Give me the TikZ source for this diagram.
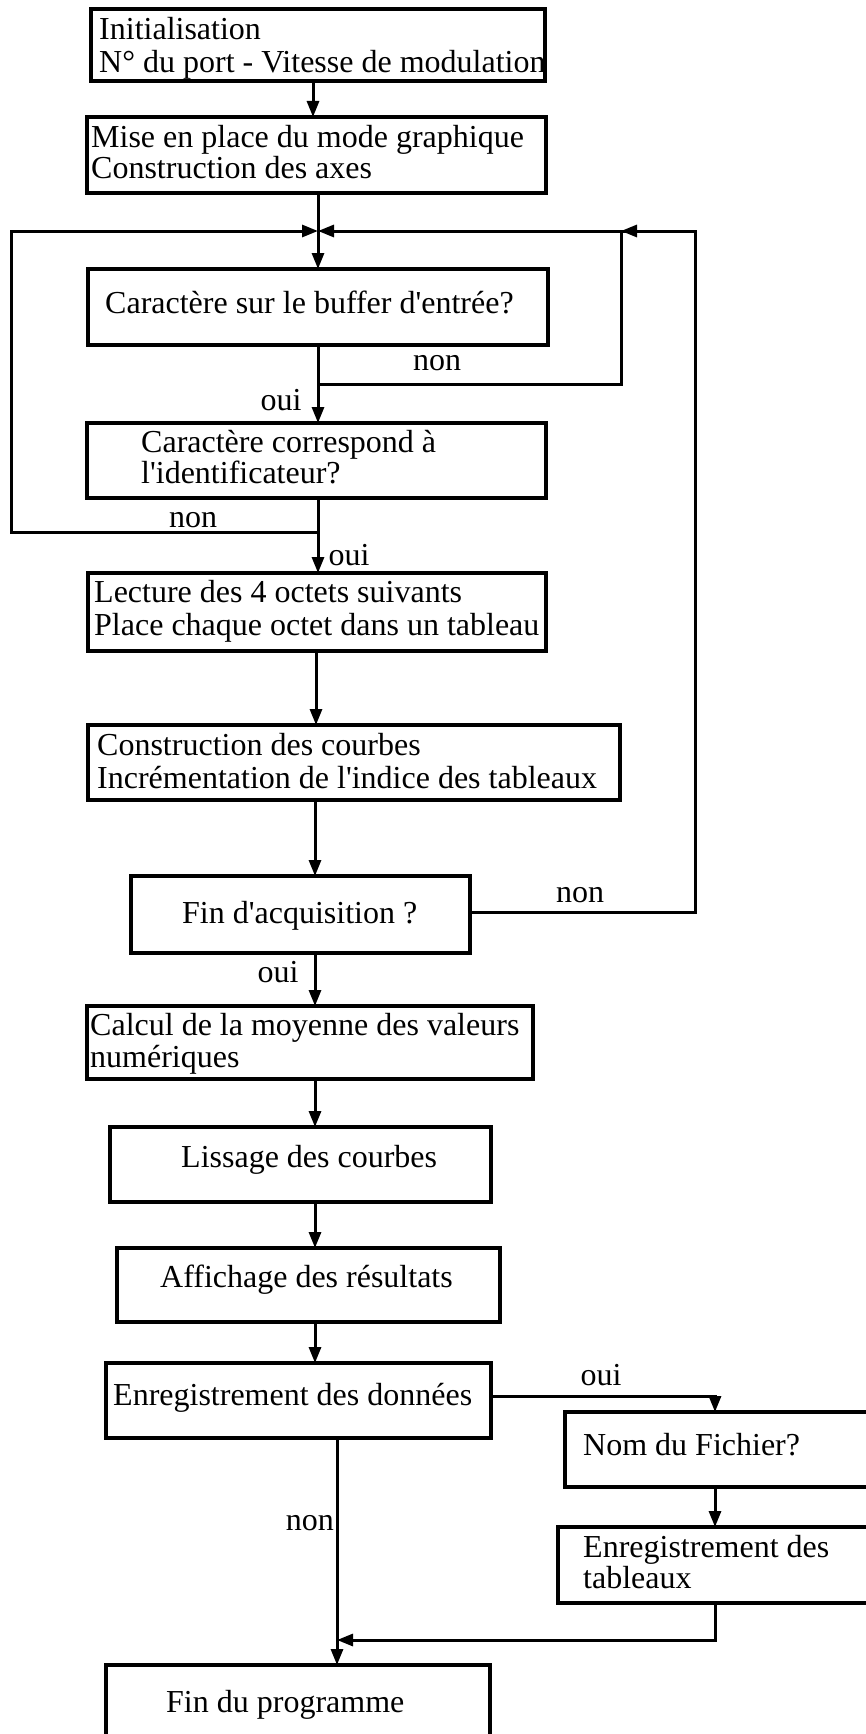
\documentclass[tikz,border=0pt]{standalone}
\usepackage{fontspec}
\setmainfont{Liberation Serif}
\usetikzlibrary{arrows.meta}
\begin{document}
\begin{tikzpicture}[x=1pt,y=-1pt,
  font=\fontsize{32}{34}\selectfont,
  box/.style={draw, line width=3.4pt, inner sep=0pt, outer sep=0pt, anchor=north west},
  conn/.style={line width=3pt},
  arr/.style={conn, -{Triangle[length=16pt,width=12pt]}},
  txt/.style={anchor=base west, inner sep=0pt},
  lab/.style={anchor=base, inner sep=0pt}]

\useasboundingbox (0,0) rectangle (866,1734);

% ---------- boxes ----------
\node[box, minimum width=454pt, minimum height=72pt] (A) at (91,9) {};
\node[box, minimum width=459pt, minimum height=76pt] (B) at (87,117) {};
\node[box, minimum width=460pt, minimum height=76pt] (C) at (88,269) {};
\node[box, minimum width=459pt, minimum height=75pt] (D) at (87,423) {};
\node[box, minimum width=458pt, minimum height=78pt] (E) at (88,573) {};
\node[box, minimum width=532pt, minimum height=75pt] (F) at (88,725) {};
\node[box, minimum width=339pt, minimum height=77pt] (G) at (131,876) {};
\node[box, minimum width=446pt, minimum height=73pt] (H) at (87,1006) {};
\node[box, minimum width=381pt, minimum height=75pt] (I) at (110,1127) {};
\node[box, minimum width=383pt, minimum height=74pt] (J) at (117,1248) {};
\node[box, minimum width=385pt, minimum height=75pt] (K) at (106,1363) {};
\node[box, minimum width=315pt, minimum height=75pt] (L) at (565,1412) {};
\node[box, minimum width=322pt, minimum height=76pt] (M) at (558,1527) {};
\node[box, minimum width=384pt, minimum height=95pt] (N) at (106,1665) {};

% ---------- texts ----------
\node[txt] (tA1) at (99,40) {Initialisation};
\node[txt] (tA2) at (99,73) {N° du port - Vitesse de modulation};
\node[txt] (tB1) at (91,147) {Mise en place du mode graphique};
\node[txt] (tB2) at (91,178) {Construction des axes};
\node[txt] (tC) at (105,313) {Caractère sur le buffer d\textquotesingle entrée?};
\node[txt] (tD1) at (141,452) {Caractère correspond à};
\node[txt] (tD2) at (141,483) {l\textquotesingle identificateur?};
\node[txt] (tE1) at (94,602) {Lecture des 4 octets suivants};
\node[txt] (tE2) at (94,635) {Place chaque octet dans un tableau};
\node[txt] (tF1) at (97,755) {Construction des courbes};
\node[txt] (tF2) at (97,788) {Incrémentation de l\textquotesingle indice des tableaux};
\node[txt] (tG) at (182,923) {Fin d\textquotesingle acquisition ?};
\node[txt] (tH1) at (90,1035) {Calcul de la moyenne des valeurs};
\node[txt] (tH2) at (90,1067) {numériques};
\node[txt] (tI) at (181,1167) {Lissage des courbes};
\node[txt] (tJ) at (160,1287) {Affichage des résultats};
\node[txt] (tK) at (113,1405) {Enregistrement des données};
\node[txt] (tL) at (583,1455) {Nom du Fichier?};
\node[txt] (tM1) at (583,1557) {Enregistrement des};
\node[txt] (tM2) at (583,1588) {tableaux};
\node[txt] (tN) at (166,1712) {Fin du programme};

% ---------- labels ----------
\node[lab] (lC) at (437,370) {non};
\node[lab] (lCo) at (281,410) {oui};
\node[lab] (lD) at (193,527) {non};
\node[lab] (lDo) at (349,565) {oui};
\node[lab] (lG) at (580,902) {non};
\node[lab] (lGo) at (278,982) {oui};
\node[lab] (lK) at (601,1385) {oui};
\node[anchor=base east, inner sep=0pt] (lKn) at (334,1530) {non};

% ---------- coordinates ----------
\coordinate (c313) at (313,0);
\coordinate (m) at (318,0);
\coordinate (c316) at (316,0);
\coordinate (c315) at (315,0);
\coordinate (J0) at (318,231);
\coordinate (jC) at (318,384);
\coordinate (jD) at (318,532);
\coordinate (xC) at (621,0);
\coordinate (xL) at (11,0);
\coordinate (xR) at (695,0);
\coordinate (xM) at (715,0);
\coordinate (xK) at (337,0);
\coordinate (jK) at (337,1640);

% ---------- connectors ----------
\draw[arr] (A.south -| c313) -- (B.north -| c313);
\draw[conn] (B.south -| m) -- (J0);
\draw[arr] (J0) -- (C.north -| m);
\draw[arr] (C.south -| m) -- (D.north -| m);
\draw[conn] (jC) -- (jC -| xC) -- (xC |- J0);
\draw[arr] (D.south -| m) -- (E.north -| m);
\draw[arr] (jD) -- (jD -| xL) -- (xL |- J0) -- (J0);
\draw[arr] (E.south -| c316) -- (F.north -| c316);
\draw[arr] (F.south -| c315) -- (G.north -| c315);
\draw[arr] ([yshift=2.5pt]G.east) -| (xR |- J0) -- (J0);
\draw[arr] (xR |- J0) -- (xC |- J0);
\draw[arr] (G.south -| c315) -- (H.north -| c315);
\draw[arr] (H.south -| c315) -- (I.north -| c315);
\draw[arr] (I.south -| c315) -- (J.north -| c315);
\draw[arr] (J.south -| c315) -- (K.north -| c315);
\draw[arr] ([yshift=4.5pt]K.east) -| (L.north -| xM);
\draw[arr] (L.south -| xM) -- (M.north -| xM);
\draw[arr] (M.south -| xM) |- (jK);
\draw[arr] (K.south -| xK) -- (N.north -| xK);
\end{tikzpicture}
\end{document}
